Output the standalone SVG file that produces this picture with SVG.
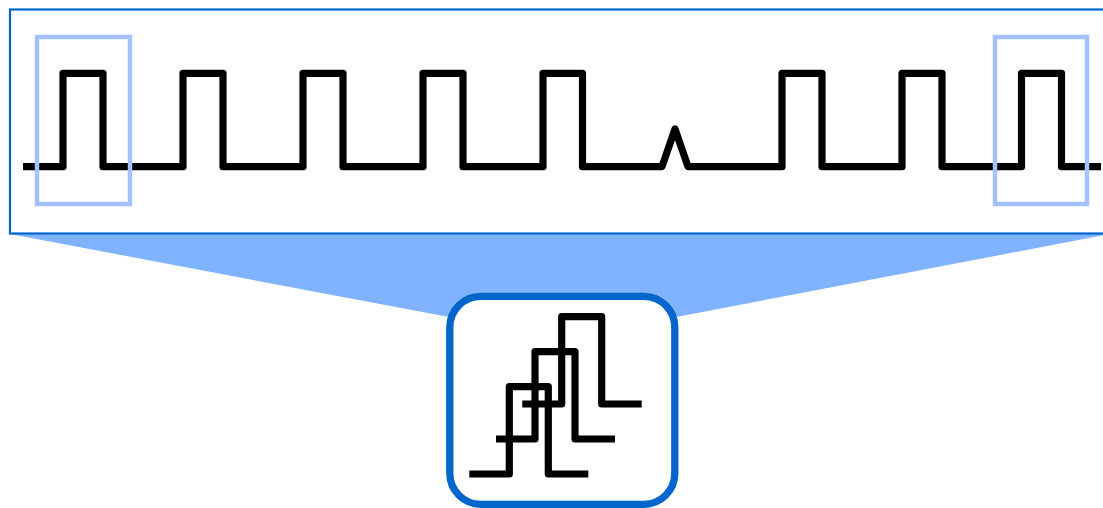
<svg xmlns="http://www.w3.org/2000/svg" width="1103" height="508" viewBox="0 0 1103 508">
  <style>
    .wave { fill: none; stroke: #000; stroke-width: 7.2; stroke-linejoin: round; stroke-linecap: butt; }
    .hl { fill: none; stroke: #a4c2ff; stroke-width: 4.5; }
    .frame { fill: #fff; stroke: #0066cc; }
  </style>
  <g id="fan">
    <polygon points="10,234 1110,234 676,317 449,317" fill="#80b3ff"/>
  </g>
  <g id="overview">
    <rect class="frame" x="10" y="9.5" width="1100" height="224" stroke-width="2.2"/>
    <path class="wave" d="M23,166.7 H63 V73.3 H103 V166.7 H183 V73.3 H223 V166.7 H303 V73.3 H343 V166.7 H423 V73.3 H463 V166.7 H543 V73.3 H582.5 V166.7 H662 L675,129 L688,166.7 H782 V73.3 H822 V166.7 H902 V73.3 H942 V166.7 H1021.5 V73.3 H1061.5 V166.7 H1101"/>
    <rect class="hl" x="37" y="37" width="93" height="167"/>
    <rect class="hl" x="995" y="37" width="92" height="167"/>
  </g>
  <g id="detail">
    <rect class="frame" x="449.8" y="296.3" width="225" height="208" rx="31" ry="31" stroke-width="7.3"/>
    <path class="wave" d="M469.3,474 H509.3 V386.7 H548.3 V474 H588.3"/>
    <path class="wave" d="M496,439 H535 V351.7 H575 V439 H615"/>
    <path class="wave" d="M522.3,404 H561.7 V316.7 H601.7 V404 H641.7"/>
  </g>
</svg>
